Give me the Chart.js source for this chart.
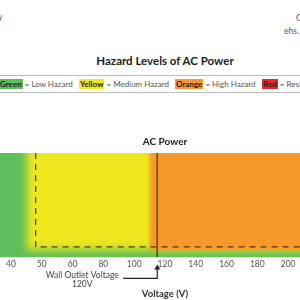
<!DOCTYPE html>
<html lang="en">
<head>
<meta charset="UTF-8">
<title>Hazard Levels of AC Power</title>
<script src="https://cdn.jsdelivr.net/npm/chart.js"></script>
<style>
    body {
        margin: 0;
        width: 300px;
        height: 300px;
        overflow: hidden;
        position: relative;
        background: #fff;
        font-family: Lato, sans-serif;
        color: #444;
    }
    .frag {
        position: absolute;
        font-size: 8.5px;
        color: #555;
    }
    #heading {
        position: absolute;
        top: 54px;
        left: 0;
        width: 330px;
        text-align: center;
        font-weight: bold;
        font-size: 11.5px;
        color: #222;
    }
    #legend {
        position: absolute;
        top: 75px;
        left: -10px;
        width: 340px;
        height: 16px;
        border-top: 1px solid #bbb;
        border-bottom: 1px solid #bbb;
    }
    .key {
        position: absolute;
        top: 2px;
        font-size: 8px;
        line-height: 12px;
        white-space: nowrap;
        color: #555;
    }
    .key b {
        color: #222;
        padding: 0 1px;
    }
    #wrap {
        position: absolute;
        left: 0;
        top: 130px;
        width: 330px;
        height: 170px;
    }
</style>
</head>
<body>
<span class="frag" style="left:-2px;top:12px">y</span>
<span class="frag" style="left:296px;top:13px">C</span>
<span class="frag" style="left:284px;top:26px">ehs.</span>
<div id="heading">Hazard Levels of AC Power</div>
<div id="legend"></div>
<div id="wrap"><canvas id="chart"></canvas></div>
<script>
    // legend row
    const legendNames = ['Green', 'Yellow', 'Orange', 'Red'];
    const legendMeanings = ['Low Hazard', 'Medium Hazard', 'High Hazard', 'Restricted'];
    const legendColors = ['#5dbe5b', '#f0e81c', '#f7982b', '#e52a2f'];
    const legendLeft = [9, 89, 185, 272];

    // chart values
    const voltTicks = [40, 50, 60, 80, 100, 120, 140, 160, 180, 200, 220];
    const zoneNames = ['Medium Hazard', 'High Hazard'];
    const zoneFromV = [45, 110];
    const zoneColors = ['#ede71c', '#f7982b'];
    const zoneBlur = [4, 1.5];
    const lowColor = '#5dbe5b';
    const thresholdV = 48;   // dashed vertical
    const floorLevel = 10;   // dashed horizontal, 0-100
    const zoneFloor = 7;
    const wallV = 115;
    const wallLabel = ['Wall Outlet Voltage', '120V'];

    const legend = document.getElementById('legend');
    legendNames.forEach((name, i) => {
        const el = document.createElement('span');
        el.className = 'key';
        el.style.left = legendLeft[i] + 'px';
        el.innerHTML = '<b style="background:' + legendColors[i] + '">' + name + '</b> = ' + legendMeanings[i];
        legend.appendChild(el);
    });

    // voltage -> position on the (uneven) tick axis
    function pos(v) {
        let i = 0;
        while (i < voltTicks.length - 2 && v > voltTicks[i + 1]) i++;
        return i + (v - voltTicks[i]) / (voltTicks[i + 1] - voltTicks[i]);
    }

    const xMin = -0.357, xMax = 10.36;

    const zonesPlugin = {
        id: 'zones',
        beforeDatasetsDraw(chart) {
            const { ctx, chartArea: a, scales: { x, y } } = chart;
            ctx.save();
            ctx.beginPath();
            ctx.rect(a.left, a.top, a.right - a.left, a.bottom - a.top);
            ctx.clip();
            ctx.fillStyle = lowColor;
            ctx.fillRect(a.left, a.top, a.right - a.left, a.bottom - a.top);
            const yb = y.getPixelForValue(zoneFloor);
            zoneFromV.forEach((v, i) => {
                const x0 = x.getPixelForValue(pos(v));
                ctx.filter = 'blur(' + zoneBlur[i] + 'px)';
                ctx.fillStyle = zoneColors[i];
                ctx.fillRect(x0, a.top - 20, a.right + 20 - x0, yb - a.top + 20);
            });
            ctx.restore();
        }
    };

    const wallPlugin = {
        id: 'wall',
        afterDraw(chart) {
            const { ctx, chartArea: a, scales: { x } } = chart;
            const xw = x.getPixelForValue(pos(wallV));
            const ya = a.bottom + 21;
            ctx.save();
            ctx.strokeStyle = '#222';
            ctx.lineWidth = 1.2;
            ctx.beginPath();
            ctx.moveTo(xw - 34, ya);
            ctx.lineTo(xw, ya);
            ctx.lineTo(xw, a.bottom + 11);
            ctx.stroke();
            ctx.fillStyle = '#222';
            ctx.beginPath();
            ctx.moveTo(xw, a.bottom + 7);
            ctx.lineTo(xw - 3, a.bottom + 12);
            ctx.lineTo(xw + 3, a.bottom + 12);
            ctx.closePath();
            ctx.fill();
            ctx.fillStyle = '#444';
            ctx.font = '8.5px Lato, sans-serif';
            ctx.textAlign = 'center';
            ctx.textBaseline = 'middle';
            ctx.fillText(wallLabel[0], xw - 75, a.bottom + 18);
            ctx.fillText(wallLabel[1], xw - 75, a.bottom + 26.5);
            ctx.restore();
        }
    };

    Chart.defaults.font.family = 'Lato, sans-serif';

    new Chart(document.getElementById('chart'), {
        type: 'line',
        data: {
            datasets: [
                {
                    label: 'Hazard threshold',
                    data: [
                        { x: pos(thresholdV), y: 100 },
                        { x: pos(thresholdV), y: floorLevel },
                        { x: xMax, y: floorLevel }
                    ],
                    borderColor: 'rgba(40,40,30,0.85)',
                    borderWidth: 1.3,
                    borderDash: [6, 5],
                    pointRadius: 0,
                    tension: 0
                },
                {
                    label: 'Wall outlet',
                    data: [{ x: pos(wallV), y: 0 }, { x: pos(wallV), y: 100 }],
                    borderColor: 'rgba(60,45,20,0.8)',
                    borderWidth: 1.5,
                    pointRadius: 0
                }
            ]
        },
        options: {
            responsive: true,
            maintainAspectRatio: false,
            animation: false,
            layout: { padding: 0 },
            plugins: {
                legend: { display: false },
                tooltip: { enabled: false },
                title: {
                    display: true,
                    text: 'AC Power',
                    color: '#222',
                    font: { size: 10, weight: 'bold' },
                    padding: { top: 6, bottom: 5 }
                }
            },
            scales: {
                x: {
                    type: 'linear',
                    min: xMin,
                    max: xMax,
                    afterBuildTicks: s => { s.ticks = voltTicks.map((_, i) => ({ value: i })); },
                    grid: { display: false, drawTicks: false },
                    border: { display: false },
                    ticks: {
                        autoSkip: false,
                        maxRotation: 0,
                        padding: 2,
                        color: '#555',
                        font: { size: 8.5 },
                        callback: v => voltTicks[v]
                    },
                    title: {
                        display: true,
                        text: 'Voltage (V)',
                        color: '#333',
                        font: { size: 9.5, weight: 'bold' },
                        padding: { top: 17, bottom: 0 }
                    }
                },
                y: { display: false, min: 0, max: 100 }
            }
        },
        plugins: [zonesPlugin, wallPlugin]
    });
</script>
</body>
</html>
